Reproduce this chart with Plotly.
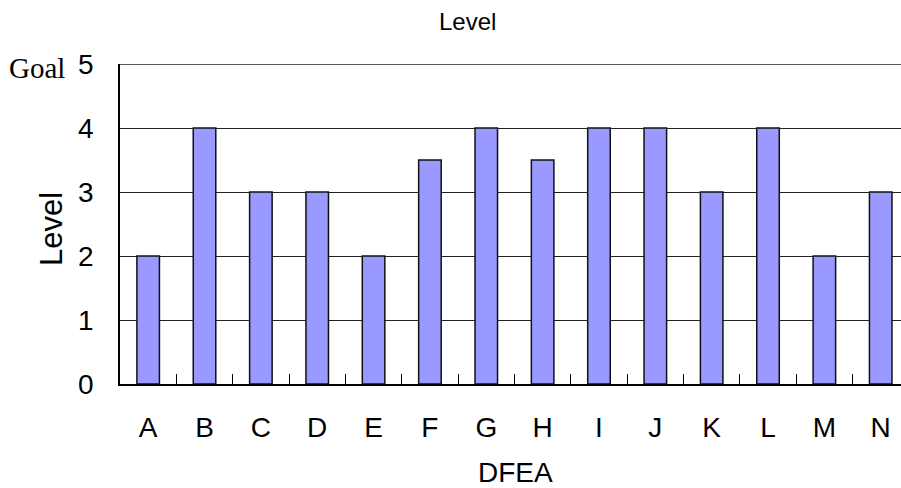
import plotly.graph_objects as go

categories = ["A", "B", "C", "D", "E", "F", "G", "H", "I", "J", "K", "L", "M", "N"]
levels = [2, 4, 3, 3, 2, 3.5, 4, 3.5, 4, 4, 3, 4, 2, 3]
y_ticks = [0, 1, 2, 3, 4, 5]

sans = "Liberation Sans, Arial, sans-serif"
serif = "Liberation Serif, Times New Roman, serif"

fig = go.Figure(
    go.Bar(
        x=categories,
        y=levels,
        width=0.4,
        marker=dict(color="#9999FF", line=dict(color="#111111", width=1.5)),
    )
)

fig.update_layout(
    width=901,
    height=488,
    margin=dict(l=120, r=0, t=64, b=104),
    plot_bgcolor="white",
    paper_bgcolor="white",
    showlegend=False,
    font=dict(family=sans, color="black", size=28),
)

fig.update_xaxes(
    type="category",
    range=[-0.5, 13.36],
    showline=True,
    linecolor="black",
    linewidth=1.5,
    ticks="inside",
    tickson="boundaries",
    ticklen=10,
    tickcolor="black",
    tickwidth=1,
    ticklabelstandoff=18,
    tickfont=dict(size=28),
    showgrid=False,
)

fig.update_yaxes(
    range=[0, 5],
    tickvals=y_ticks,
    showline=True,
    linecolor="black",
    linewidth=1.5,
    ticks="",
    ticklabelstandoff=19,
    tickfont=dict(size=28),
    showgrid=True,
    gridcolor="#222222",
    gridwidth=1,
    zeroline=False,
)

# top border of the plot at the goal level
fig.add_hline(y=5, line=dict(color="#222222", width=1.5))

fig.add_annotation(text="Level", xref="paper", yref="paper", x=(467 - 120) / 781, y=1.0,
                   xanchor="center", yanchor="middle",
                   yshift=43, showarrow=False, font=dict(size=24))
fig.add_annotation(text="Level", xref="paper", yref="paper", x=0, y=0.5,
                   xanchor="center", yanchor="middle",
                   xshift=-69, yshift=-5, textangle=-90, showarrow=False,
                   font=dict(size=31))
fig.add_annotation(text="DFEA", xref="paper", yref="paper", x=(515 - 120) / 781, y=0,
                   xanchor="center", yanchor="middle",
                   yshift=-88, showarrow=False, font=dict(size=28))
fig.add_annotation(text="Goal", xref="paper", yref="y", x=0, y=5,
                   xanchor="center", yanchor="middle",
                   xshift=-83, yshift=-4, showarrow=False,
                   font=dict(family=serif, size=29))

fig.write_html("out.html")
